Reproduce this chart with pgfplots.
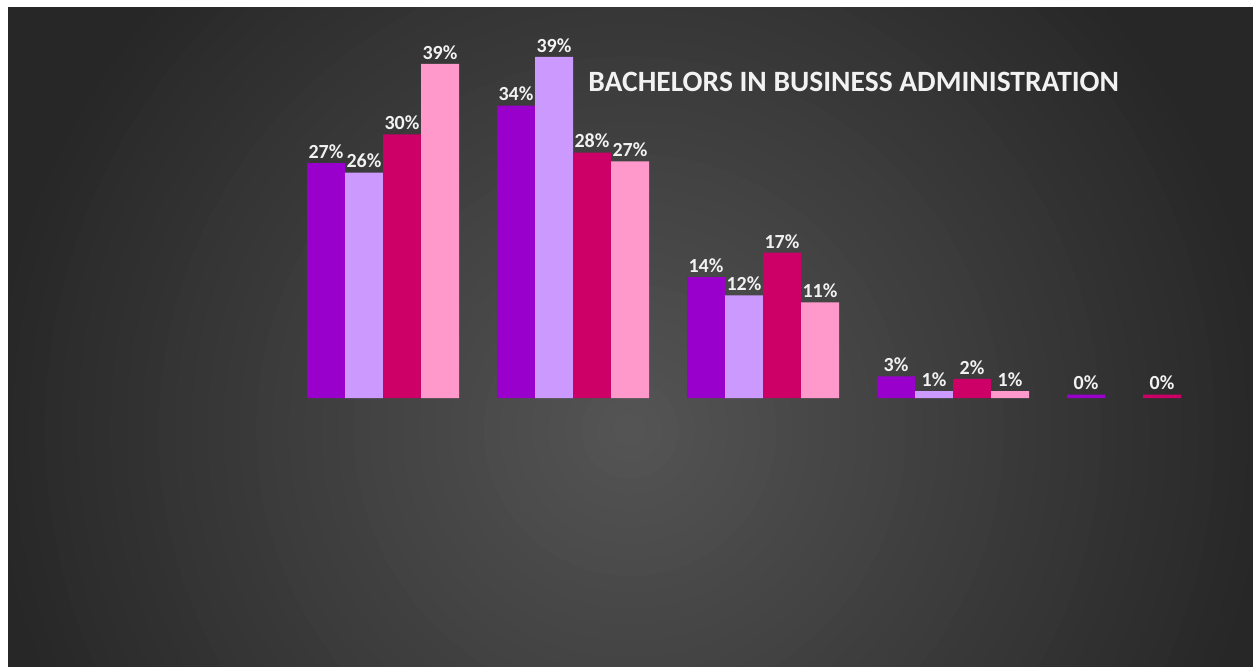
\documentclass[border=0pt]{standalone}
\usepackage{fontspec}
\setmainfont{Carlito}
\usepackage{pgfplots}
\pgfplotsset{compat=1.18}

\definecolor{barA}{HTML}{9900CC}
\definecolor{barB}{HTML}{CC99FF}
\definecolor{barC}{HTML}{CC0066}
\definecolor{barD}{HTML}{FF99CC}
\definecolor{bgout}{HTML}{272727}
\definecolor{bgin}{HTML}{555555}
\definecolor{lbl}{HTML}{F2F2F2}

\begin{document}
\begin{tikzpicture}
\useasboundingbox (-4.8pt,0) rectangle (747pt,399.6pt);
% background: dark fill with a soft glow a bit below the middle
\fill[bgout] (0,-2pt) rectangle (749pt,395.4pt);
\begin{scope}
    \clip (0,-2pt) rectangle (749pt,395.4pt);
    \foreach \i in {40,39,...,1} {
        \pgfmathsetmacro\pct{100-2.5*\i}
        \fill[bgin!\pct!bgout] (373.2pt,141.6pt) circle[radius=\i*9.75pt];
    }
\end{scope}
\begin{axis}[
    at={(0,0)}, anchor=south west,
    scale only axis,
    width=747pt, height=395.4pt,
    xmin=-1.9737, xmax=4.5789,
    ymin=-30.80, ymax=44.94,
    xtick=\empty, ytick=\empty,
    axis line style={draw=none},
    ybar=0pt, bar width=22.8pt,
    point meta=explicit symbolic,
    nodes near coords,
    nodes near coords style={font=\bfseries\fontsize{12}{14}\selectfont, text=lbl, inner sep=2.5pt},
]
    \addplot[fill=barA, draw=none] coordinates {
        (0,27.0) [27\%] (1,33.6) [34\%] (2,13.9) [14\%] (3,2.5) [3\%] (4,0.4) [0\%]
    };
    \addplot[fill=barB, draw=none] coordinates {
        (0,25.9) [26\%] (1,39.2) [39\%] (2,11.8) [12\%] (3,0.8) [1\%]
    };
    \addplot[fill=barC, draw=none] coordinates {
        (0,30.3) [30\%] (1,28.2) [28\%] (2,16.7) [17\%] (3,2.2) [2\%] (4,0.4) [0\%]
    };
    \addplot[fill=barD, draw=none] coordinates {
        (0,38.4) [39\%] (1,27.2) [27\%] (2,11.0) [11\%] (3,0.8) [1\%]
    };

    \node[anchor=base west, inner sep=0pt, text=lbl, font=\bfseries\fontsize{17.7}{20}\selectfont]
        at (axis cs:1.079,35.23) {BACHELORS IN BUSINESS ADMINISTRATION};
\end{axis}
% white margin at the left and top, as in the reference
\fill[white] (-6pt,-2pt) rectangle (0,401pt);
\fill[white] (-6pt,395.4pt) rectangle (749pt,401pt);
\end{tikzpicture}
\end{document}
